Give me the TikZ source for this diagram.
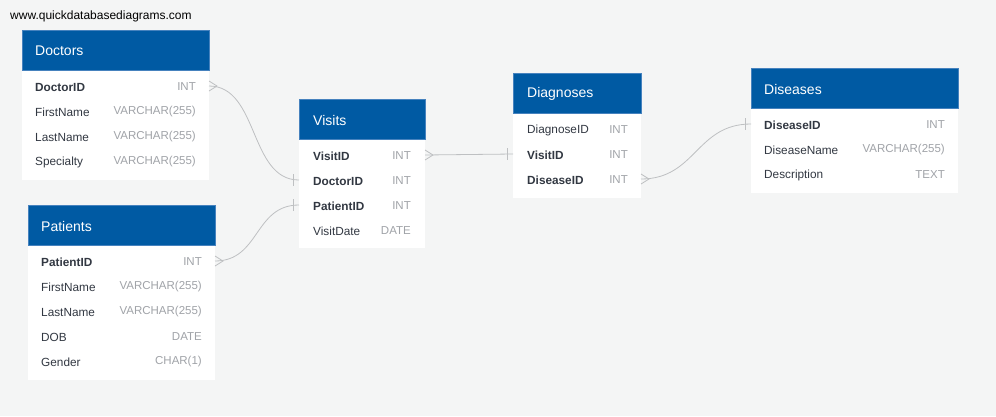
\documentclass[tikz,border=0pt]{standalone}
\usepackage{fontspec}
\setmainfont{Liberation Sans}
\usetikzlibrary{calc}
\definecolor{bgc}{RGB}{244,245,245}
\definecolor{hdrblue}{RGB}{0,90,163}
\definecolor{hdrline}{RGB}{70,130,190}
\definecolor{nametxt}{RGB}{50,56,66}
\definecolor{typetxt}{RGB}{160,163,168}
\definecolor{linkc}{RGB}{190,192,194}
\begin{document}
\begin{tikzpicture}[x=1pt,y=-1pt,
  hdr/.style={fill=hdrblue, draw=hdrline, line width=0.6pt, minimum height=40pt, anchor=north west, inner sep=0, outer sep=0},
  tbody/.style={fill=white, draw=none, anchor=north west, inner sep=0, outer sep=0},
  htitle/.style={font=\fontsize{14}{16}\selectfont, text=white, anchor=west, inner sep=0, yshift=-1pt},
  fname/.style={font=\fontsize{11.8}{14}\selectfont, text=nametxt, anchor=west, inner sep=0, yshift=-1pt},
  fkey/.style={fname, font=\fontsize{11.8}{14}\selectfont\bfseries},
  ftype/.style={font=\fontsize{11.5}{14}\selectfont, text=typetxt, anchor=east, inner sep=0, yshift=-1pt},
  link/.style={draw=linkc, line width=0.8pt},
]
\useasboundingbox (0,0) rectangle (996,416);
\fill[bgc] (0,0) rectangle (996,416);
\node[font=\fontsize{12}{14}\selectfont, anchor=west, inner sep=0] (url) at (10,16.5) {www.quickdatabasediagrams.com};

% Doctors
\node[tbody, minimum width=187pt, minimum height=110pt] (docB) at (22,70) {};
\node[hdr, minimum width=187pt] (doc) at (22,30) {};
\node[htitle] (docT) at (35,50) {Doctors};
\node[fkey] (docN1) at (35,86) {DoctorID};
\node[ftype] (docY1) at (196,86) {INT};
\node[fname] (docN2) at (35,111) {FirstName};
\node[ftype] (docY2) at (196,111) {VARCHAR(255)};
\node[fname] (docN3) at (35,136) {LastName};
\node[ftype] (docY3) at (196,136) {VARCHAR(255)};
\node[fname] (docN4) at (35,161) {Specialty};
\node[ftype] (docY4) at (196,161) {VARCHAR(255)};

% Patients
\node[tbody, minimum width=187pt, minimum height=135pt] (patB) at (28,245) {};
\node[hdr, minimum width=187pt] (pat) at (28,205) {};
\node[htitle] (patT) at (41,225) {Patients};
\node[fkey] (patN1) at (41,261) {PatientID};
\node[ftype] (patY1) at (202,261) {INT};
\node[fname] (patN2) at (41,286) {FirstName};
\node[ftype] (patY2) at (202,286) {VARCHAR(255)};
\node[fname] (patN3) at (41,311) {LastName};
\node[ftype] (patY3) at (202,311) {VARCHAR(255)};
\node[fname] (patN4) at (41,336) {DOB};
\node[ftype] (patY4) at (202,336) {DATE};
\node[fname] (patN5) at (41,361) {Gender};
\node[ftype] (patY5) at (202,361) {CHAR(1)};

% Visits
\node[tbody, minimum width=126pt, minimum height=109pt] (visB) at (299,139) {};
\node[hdr, minimum width=126pt] (vis) at (299,99) {};
\node[htitle] (visT) at (313,119) {Visits};
\node[fkey] (visN1) at (313,155) {VisitID};
\node[ftype] (visY1) at (411,155) {INT};
\node[fkey] (visN2) at (313,180) {DoctorID};
\node[ftype] (visY2) at (411,180) {INT};
\node[fkey] (visN3) at (313,205) {PatientID};
\node[ftype] (visY3) at (411,205) {INT};
\node[fname] (visN4) at (313,230) {VisitDate};
\node[ftype] (visY4) at (411,230) {DATE};

% Diagnoses
\node[tbody, minimum width=128pt, minimum height=85pt] (diaB) at (513,113) {};
\node[hdr, minimum width=128pt] (dia) at (513,73) {};
\node[htitle] (diaT) at (527,93) {Diagnoses};
\node[fname] (diaN1) at (527,129) {DiagnoseID};
\node[ftype] (diaY1) at (628,129) {INT};
\node[fkey] (diaN2) at (527,154) {VisitID};
\node[ftype] (diaY2) at (628,154) {INT};
\node[fkey] (diaN3) at (527,179) {DiseaseID};
\node[ftype] (diaY3) at (628,179) {INT};

% Diseases
\node[tbody, minimum width=207pt, minimum height=85pt] (disB) at (751,108) {};
\node[hdr, minimum width=207pt] (dis) at (751,68) {};
\node[htitle] (disT) at (764,88) {Diseases};
\node[fkey] (disN1) at (764,124) {DiseaseID};
\node[ftype] (disY1) at (945,124) {INT};
\node[fname] (disN2) at (764,149) {DiseaseName};
\node[ftype] (disY2) at (945,149) {VARCHAR(255)};
\node[fname] (disN3) at (764,174) {Description};
\node[ftype] (disY3) at (945,174) {TEXT};

% connector end points, on the table edges at the rows' heights
\coordinate (a1) at ($(docB.east |- docN1)+(0,-1)$);
\coordinate (b1) at ($(visB.west |- visN2)+(0,-1)$);
\coordinate (a2) at ($(patB.east |- patN1)+(0,-1)$);
\coordinate (b2) at ($(visB.west |- visN3)+(0,-1)$);
\coordinate (a3) at ($(visB.east |- visN1)+(0,-1)$);
\coordinate (b3) at ($(diaB.west |- diaN2)+(0,-1)$);
\coordinate (a4) at ($(diaB.east |- diaN3)+(0,-1)$);
\coordinate (b4) at ($(disB.west |- disN1)+(0,-1)$);

% connectors
\draw[link] (a1) .. controls ($(a1)+(50,0)$) and ($(b1)+(-50,0)$) .. (b1);
\draw[link] (a2) .. controls ($(a2)+(45,0)$) and ($(b2)+(-45,0)$) .. (b2);
\draw[link] (a3) -- (b3);
\draw[link] (a4) .. controls ($(a4)+(55,0)$) and ($(b4)+(-55,0)$) .. (b4);

% crow's feet (many)
\foreach \p in {a1,a2,a3,a4}{
  \draw[link] ($(\p)+(0,-5)$) -- ($(\p)+(8,0)$) -- ($(\p)+(0,5)$);
}
% bars (one)
\foreach \p in {b1,b2,b3,b4}{
  \draw[link] ($(\p)+(-6,-6)$) -- ($(\p)+(-6,6)$);
}
\end{tikzpicture}
\end{document}
